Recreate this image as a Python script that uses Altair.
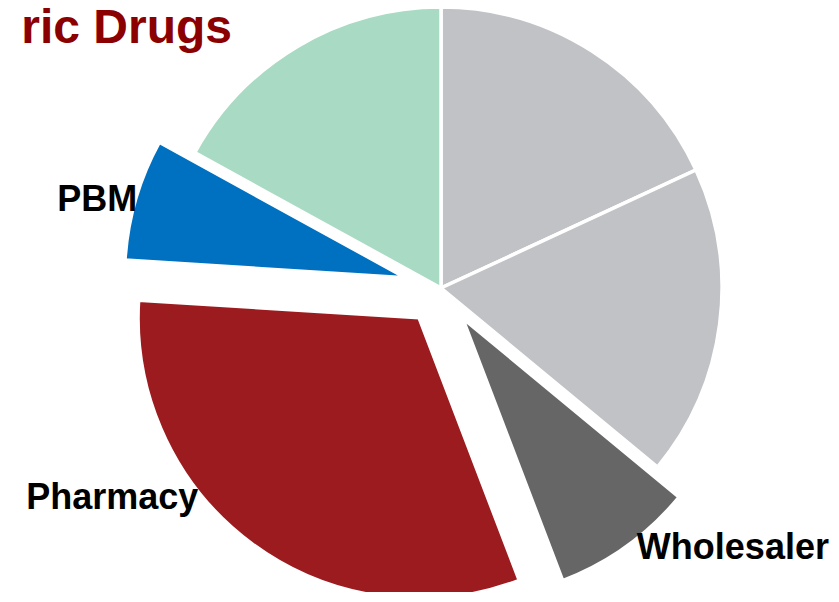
import altair as alt
import pandas as pd

# ---- data (clockwise from 12 o'clock) ----
categories = ["Manufacturer", "Distributor", "Wholesaler", "Pharmacy", "PBM", "Insurer"]
shares = [18.1, 17.9, 8.2, 31.8, 7.0, 17.0]
labels = ["", "", "Wholesaler", "Pharmacy", "PBM", ""]
title_text = "ric Drugs"

# ---- style ----
colors = ["#c0c2c6", "#c0c2c6", "#666666", "#9b1b1f", "#0070c0", "#a9dac3"]
CX, CY = 433, 280          # pie centre in plot coords
R = 281                    # pie radius
EXPLODE = {"Wholesaler": 37, "Pharmacy": 37, "PBM": 37}
LABEL_POS = {"Wholesaler": (130.4, 355), "Pharmacy": (239.5, 356), "PBM": (284.2, 318)}
FONT = "Liberation Sans"

df = pd.DataFrame({
    "category": categories,
    "value": shares,
    "order": list(range(len(categories))),
    "label": labels,
    "explode": [EXPLODE.get(c, 0) for c in categories],
    "la": [LABEL_POS.get(c, (0, 0))[0] for c in categories],
    "lr": [LABEL_POS.get(c, (0, 0))[1] for c in categories],
})

base = (
    alt.Chart(df)
    .transform_joinaggregate(total="sum(value)")
    .transform_window(cum="sum(value)", sort=[alt.SortField("order")], frame=[None, 0])
    .transform_calculate(
        t0="(datum.cum - datum.value) / datum.total * 2 * PI",
        t1="datum.cum / datum.total * 2 * PI",
    )
    .transform_calculate(mid="(datum.t0 + datum.t1) / 2")
    .transform_calculate(
        px=f"{CX} + datum.explode * sin(datum.mid)",
        py=f"{CY} - datum.explode * cos(datum.mid)",
    )
    .transform_calculate(
        lx="datum.px + datum.lr * sin(datum.la * PI / 180)",
        ly="datum.py - datum.lr * cos(datum.la * PI / 180)",
    )
)

arcs = base.mark_arc(radius=R, stroke="white", strokeWidth=3.5).encode(
    theta=alt.Theta("t0:Q", scale=None),
    theta2=alt.Theta2("t1:Q"),
    x=alt.X("px:Q", scale=None, axis=None),
    y=alt.Y("py:Q", scale=None, axis=None),
    color=alt.Color("category:N", scale=alt.Scale(domain=categories, range=colors), legend=None),
)

text = base.transform_filter('datum.label != ""').mark_text(
    font=FONT, fontWeight="bold", fontSize=36, color="black", align="center", baseline="middle"
).encode(
    x=alt.X("lx:Q", scale=None, axis=None),
    y=alt.Y("ly:Q", scale=None, axis=None),
    text="label:N",
)

title = alt.Chart(pd.DataFrame({"t": [title_text]})).mark_text(
    font=FONT, fontWeight="bold", fontSize=48, color="#8b0000", align="right", baseline="alphabetic"
).encode(x=alt.value(224), y=alt.value(35), text="t:N")

chart = alt.layer(arcs, text, title).properties(
    width=823, height=584, autosize=alt.AutoSizeParams(type="none"), padding=0
).configure_view(stroke=None)

chart.save("out.html", embed_options={"renderer": "svg", "actions": False})
